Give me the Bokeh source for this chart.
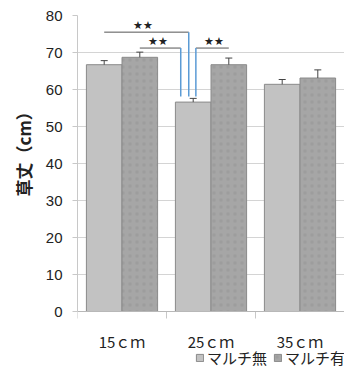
from bokeh.plotting import figure
from bokeh.models import (ColumnDataSource, FixedTicker, Range1d, Legend, LegendItem,
                          LinearAxis, Span, Title)
from bokeh.core.properties import value
from bokeh.embed import file_html
from bokeh.resources import INLINE

# Plant height (cm) by planting spacing, without / with mulch
categories = ["15ｃｍ", "25ｃｍ", "35ｃｍ"]
series_names = ["マルチ無", "マルチ有"]
no_mulch = [66.7, 56.6, 61.4]
no_mulch_err = [1.1, 1.0, 1.3]
mulch = [68.7, 66.7, 63.1]
mulch_err = [1.4, 1.8, 2.2]
y_ticks = [0, 10, 20, 30, 40, 50, 60, 70, 80]
y_title = "草丈（cm）"

BAR_W = 0.4
centers = [i + 0.5 for i in range(len(categories))]
x1 = [c - BAR_W / 2 for c in centers]
x2 = [c + BAR_W / 2 for c in centers]

# the frame runs to the bottom of the page; the space under zero holds the
# category labels and the legend
FRAME_H = 359
PX_PER_UNIT = 3.7
y_min = -(FRAME_H / PX_PER_UNIT - 80)

p = figure(width=344, height=374, frame_width=267, frame_height=FRAME_H,
           output_backend="svg", toolbar_location=None,
           x_range=Range1d(0, 3), y_range=Range1d(y_min, 80),
           min_border_left=77, min_border_right=0, min_border_top=15,
           min_border_bottom=0, background_fill_color="white",
           border_fill_color="white", x_axis_location=None, y_axis_location=None)
p.outline_line_color = None

# y axis
yaxis = LinearAxis(ticker=FixedTicker(ticks=y_ticks, minor_ticks=[]), bounds=(0, 80))
yaxis.major_label_text_font = "Liberation Sans"
yaxis.major_label_text_font_size = "15px"
yaxis.major_label_text_color = "#222222"
yaxis.major_label_standoff = 10
yaxis.axis_line_color = "#c8c8c8"
yaxis.major_tick_line_color = "#c8c8c8"
yaxis.major_tick_out = 5
yaxis.major_tick_in = 0
p.add_layout(yaxis, "left")

# vertical axis title, set beside the 0-80 part of the axis
p.add_layout(Title(text=y_title, align="left", offset=178,
                   text_font="Noto Sans CJK JP", text_font_style="bold",
                   text_font_size="17px", text_color="#222222", standoff=14), "left")

p.ygrid.ticker = FixedTicker(ticks=y_ticks[1:])
p.ygrid.grid_line_color = "#d4d4d4"
p.xgrid.grid_line_color = None

# category axis along zero
p.add_layout(Span(location=0, dimension="width", line_color="#b8b8b8", line_width=1))
bounds = list(range(len(categories) + 1))
tick_len = 7 / PX_PER_UNIT
p.segment(x0=bounds, y0=[0] * len(bounds), x1=bounds, y1=[-tick_len] * len(bounds),
          line_color="#c8c8c8", line_width=1)
p.text(x=centers, y=[-30 / PX_PER_UNIT] * len(centers), text=categories,
       text_font=value("Noto Sans CJK JP"), text_font_size="15px",
       text_align="center", text_baseline="middle", text_color="#222222")

src = ColumnDataSource(dict(x1=x1, x2=x2, m0=no_mulch, m1=mulch,
                            t0=[m + e for m, e in zip(no_mulch, no_mulch_err)],
                            t1=[m + e for m, e in zip(mulch, mulch_err)]))

r0 = p.vbar(x="x1", top="m0", width=BAR_W, bottom=0, source=src,
            fill_color="#c2c2c2", line_color="#8a8a8a", line_width=1)
r1 = p.vbar(x="x2", top="m1", width=BAR_W, bottom=0, source=src,
            fill_color="#a6a6a6", line_color="#8a8a8a", line_width=1,
            hatch_pattern="dot", hatch_color="#8c8c8c", hatch_scale=7,
            hatch_alpha=0.35)

# upper error bars
for xc, top, tip in (("x1", "m0", "t0"), ("x2", "m1", "t1")):
    p.segment(x0=xc, y0=top, x1=xc, y1=tip, source=src, line_color="#444444", line_width=1)
    p.dash(x=xc, y=tip, size=7, source=src, line_color="#444444", line_width=1)

# significance brackets (horizontal part grey, drop line blue)
grey, blue = "#555555", "#5b9bd5"
drop_bottom = no_mulch[1] + no_mulch_err[1] + 0.5
brackets = [
    # (x start, x of drop, y level, star x, star y)
    (x1[0], x1[1] - 0.05, 75.5, 0.74, 77.3),
    (x2[0], x1[1] - 0.14, 71.2, 0.90, 73.0),
    (x2[1], x1[1] + 0.03, 71.2, 1.53, 73.0),
]
for xs, xd, yl, sx, sy in brackets:
    p.line([xs, xd], [yl, yl], line_color=grey, line_width=1)
    p.line([xd, xd], [yl, drop_bottom], line_color=blue, line_width=1.5)
    p.text(x=[sx], y=[sy], text=["★★"], text_font_size="11px", text_align="center",
           text_baseline="middle", text_color="#222222")

legend = Legend(items=[LegendItem(label=series_names[0], renderers=[r0]),
                       LegendItem(label=series_names[1], renderers=[r1])],
                orientation="horizontal", location=(118, 6),
                label_text_font="Noto Sans CJK JP", label_text_font_size="15px",
                label_text_color="#222222", glyph_width=9, glyph_height=9,
                label_standoff=3, spacing=6, padding=0, margin=0,
                border_line_color=None, background_fill_alpha=0,
                label_height=14)
p.add_layout(legend, "center")

open("out.html", "w").write(file_html(p, INLINE))
